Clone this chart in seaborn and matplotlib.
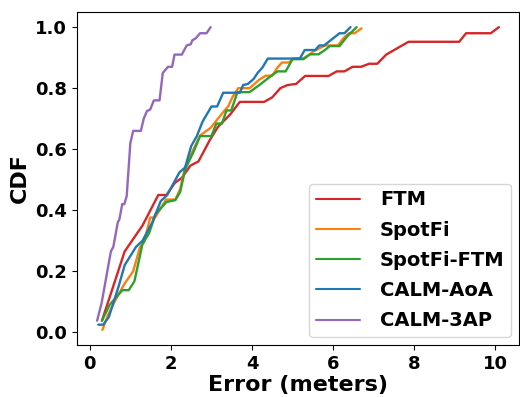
import numpy as np
import matplotlib
matplotlib.use('Agg')
import matplotlib.pyplot as plt
import pandas as pd
import seaborn as sns

# CDF points (error in meters, cumulative fraction)
ftm_x = [0.30, 0.86, 1.30, 1.69, 1.89, 2.10, 2.27, 2.48, 2.68, 2.96, 3.16, 3.47, 3.70, 4.30,
         4.50, 4.70, 4.87, 5.09, 5.31, 5.89, 6.09, 6.28, 6.48, 6.69, 6.89, 7.09, 7.31, 7.86,
         9.11, 9.28, 9.89, 10.09]
ftm_y = [0.038, 0.265, 0.35, 0.45, 0.45, 0.49, 0.506, 0.546, 0.56, 0.63, 0.673, 0.715, 0.755,
         0.755, 0.77, 0.80, 0.81, 0.814, 0.84, 0.84, 0.855, 0.855, 0.87, 0.87, 0.88, 0.88, 0.91,
         0.952, 0.952, 0.98, 0.98, 1.0]

spotfi_x = [0.31, 0.45, 0.65, 0.86, 1.07, 1.24, 1.34, 1.49, 1.61, 1.88, 2.11, 2.23, 2.35, 2.54,
            2.72, 2.98, 3.16, 3.33, 3.41, 3.53, 3.66, 3.94, 4.06, 4.18, 4.34, 4.50, 4.63, 4.74,
            4.91, 5.03, 5.27, 5.43, 5.51, 5.80, 6.12, 6.25, 6.39, 6.53, 6.70]
spotfi_y = [0.008, 0.057, 0.11, 0.16, 0.20, 0.28, 0.295, 0.376, 0.376, 0.435, 0.435, 0.47, 0.54,
            0.595, 0.645, 0.67, 0.70, 0.728, 0.74, 0.773, 0.80, 0.80, 0.814, 0.828, 0.841, 0.841,
            0.868, 0.884, 0.884, 0.898, 0.898, 0.911, 0.92, 0.94, 0.94, 0.963, 0.98, 0.98, 0.996]

spotfi_ftm_x = [0.30, 0.49, 0.80, 0.96, 1.10, 1.30, 1.46, 1.62, 1.89, 2.11, 2.23, 2.35, 2.58,
                2.72, 3.00, 3.12, 3.26, 3.37, 3.49, 3.64, 3.94, 4.18, 4.43, 4.63, 4.83, 5.00,
                5.27, 5.43, 5.64, 5.80, 5.92, 6.16, 6.35, 6.58]
spotfi_ftm_y = [0.038, 0.09, 0.138, 0.138, 0.167, 0.29, 0.324, 0.387, 0.427, 0.433, 0.46, 0.533,
                0.598, 0.643, 0.643, 0.684, 0.684, 0.727, 0.727, 0.787, 0.787, 0.81, 0.836,
                0.855, 0.855, 0.895, 0.895, 0.911, 0.911, 0.925, 0.938, 0.938, 0.97, 1.0]

aoa_x = [0.21, 0.33, 0.47, 0.71, 0.86, 1.14, 1.30, 1.54, 1.75, 1.91, 2.21, 2.35, 2.50, 2.64,
         2.78, 3.00, 3.14, 3.29, 3.70, 3.78, 3.90, 4.04, 4.14, 4.26, 4.39, 5.18, 5.30, 5.56,
         5.66, 5.78, 6.16, 6.28, 6.43]
aoa_y = [0.025, 0.025, 0.05, 0.15, 0.22, 0.28, 0.30, 0.36, 0.43, 0.45, 0.524, 0.54, 0.61, 0.643,
         0.69, 0.74, 0.74, 0.785, 0.785, 0.81, 0.814, 0.83, 0.85, 0.868, 0.897, 0.897, 0.925,
         0.925, 0.94, 0.94, 0.98, 0.98, 1.0]

ap3_x = [0.18, 0.29, 0.52, 0.58, 0.69, 0.73, 0.80, 0.85, 0.91, 1.00, 1.07, 1.26, 1.33, 1.41,
         1.49, 1.58, 1.72, 1.80, 1.93, 2.03, 2.09, 2.27, 2.39, 2.49, 2.53, 2.61, 2.72, 2.88, 2.98]
ap3_y = [0.038, 0.095, 0.265, 0.28, 0.36, 0.37, 0.42, 0.42, 0.446, 0.62, 0.66, 0.66, 0.70, 0.725,
         0.73, 0.76, 0.76, 0.85, 0.87, 0.87, 0.91, 0.91, 0.94, 0.944, 0.957, 0.963, 0.98, 0.98, 1.0]

methods = ['FTM', 'SpotFi', 'SpotFi-FTM', 'CALM-AoA', 'CALM-3AP']
colors = ['#d62728', '#ff7f0e', '#2ca02c', '#1f77b4', '#9467bd']
xs = [ftm_x, spotfi_x, spotfi_ftm_x, aoa_x, ap3_x]
ys = [ftm_y, spotfi_y, spotfi_ftm_y, aoa_y, ap3_y]

df = pd.concat([pd.DataFrame({'err': x, 'cdf': y, 'method': m})
                for x, y, m in zip(xs, ys, methods)], ignore_index=True)

sns.set_style('ticks')
plt.rcParams['font.family'] = ['DejaVu Sans']
plt.rcParams['font.weight'] = 'bold'
for key in ['text.color', 'axes.labelcolor', 'xtick.color', 'ytick.color', 'axes.edgecolor']:
    plt.rcParams[key] = 'black'

fig = plt.figure(figsize=(5.2, 3.97), dpi=100)
ax = fig.add_axes([77 / 520, 52 / 397, 442 / 520, 333 / 397])

sns.lineplot(data=df, x='err', y='cdf', hue='method', hue_order=methods,
             palette=colors, sort=False, estimator=None, linewidth=1.7, ax=ax)

ax.set_xlabel('Error (meters)', fontsize=16, fontweight='bold', labelpad=2)
ax.set_ylabel('CDF', fontsize=16, fontweight='bold')
ax.set_xticks([0, 2, 4, 6, 8, 10])
ax.set_yticks([0.0, 0.2, 0.4, 0.6, 0.8, 1.0])
ax.tick_params(labelsize=13)
for lab in ax.get_xticklabels() + ax.get_yticklabels():
    lab.set_fontweight('bold')

leg = ax.legend(loc='lower right', frameon=True, prop={'weight': 'bold', 'size': 14},
                handlelength=2.3, borderpad=0.35, labelspacing=0.58, handletextpad=1.0,
                borderaxespad=0.4)
for h in leg.get_lines():
    h.set_linewidth(1.5)

fig.savefig('out.png', dpi=100)
